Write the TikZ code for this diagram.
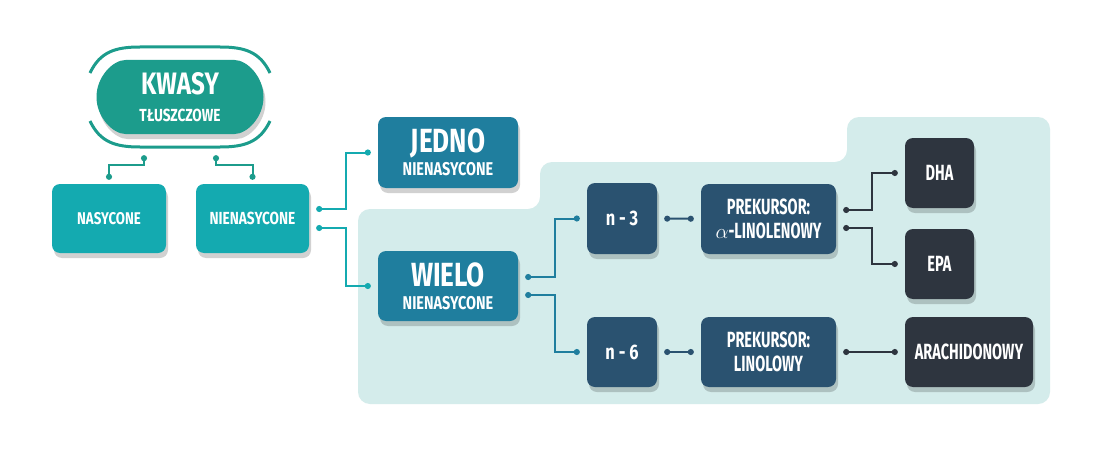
\documentclass[tikz,border=0pt]{standalone}
\usepackage{fontspec}
\newfontfamily\boxfont[FakeStretch=0.66]{Fira Sans}
\newfontfamily\widefont[FakeStretch=0.78]{Fira Sans}
\usetikzlibrary{shapes.misc}
\usetikzlibrary{shadows}
\usetikzlibrary{arrows.meta}

\definecolor{pillteal}{HTML}{1C9C8C}
\definecolor{lightteal}{HTML}{14AAB0}
\definecolor{midblue}{HTML}{1F7E9E}
\definecolor{darkblue}{HTML}{2A5270}
\definecolor{slate}{HTML}{2E353F}
\definecolor{panelbg}{HTML}{D4ECEB}

\newcommand{\boxtxt}[3]{{\fontsize{#1}{#2}\selectfont #3}}

\tikzset{
  box/.style={rounded corners=8pt, text=white, align=center, inner sep=0pt,
    drop shadow={shadow xshift=2pt, shadow yshift=-5pt, fill=black, opacity=0.18}},
  sized/.style 2 args={font=\boxfont\bfseries\fontsize{#1}{#2}\selectfont},
  widesized/.style 2 args={font=\widefont\bfseries\fontsize{#1}{#2}\selectfont},
  link/.style={line width=2pt, {Circle[length=6pt]}-{Circle[length=6pt]},
    shorten <=7pt, shorten >=7pt},
}

\begin{document}
\begin{tikzpicture}[x=1pt, y=-1pt]
\fill[white] (0,0) rectangle (1100,452);
\useasboundingbox (0,0) rectangle (1100,452);

% panel
\fill[panelbg, rounded corners=12pt] (358,209) -- (540,209) -- (540,162) -- (847,162)
  -- (847,117) -- (1050,117) -- (1050,404) -- (358,404) -- cycle;

% top
\node[box, rounded rectangle, fill=pillteal, minimum width=167pt, minimum height=74pt,
  widesized={31}{27}] (kwasy) at (180,97) {KWASY\\\boxtxt{17.5}{27}{TŁUSZCZOWE}};
\draw[pillteal, line width=3pt] (90,73) .. controls (100,52) and (115,47) .. (140,47)
  -- (220,47) .. controls (245,47) and (260,52) .. (270,73);
\draw[pillteal, line width=3pt] (90,121) .. controls (100,142) and (115,147) .. (140,147)
  -- (220,147) .. controls (245,147) and (260,142) .. (270,121);

\node[box, fill=lightteal, minimum width=114pt, minimum height=69pt, widesized={17}{20}]
  (nas) at (109,218.5) {NASYCONE};
\node[box, fill=lightteal, minimum width=113pt, minimum height=69pt, widesized={17.5}{20}]
  (nien) at (252.5,218.5) {NIENASYCONE};

\node[box, fill=midblue, minimum width=140pt, minimum height=71pt, widesized={33.5}{23}]
  (jedno) at (448,152.5) {JEDNO\\\boxtxt{18.5}{23}{NIENASYCONE}};
\node[box, fill=midblue, minimum width=140pt, minimum height=70pt, widesized={33.5}{23}]
  (wielo) at (448,286) {WIELO\\\boxtxt{18.5}{23}{NIENASYCONE}};

\node[box, fill=darkblue, minimum width=70pt, minimum height=71pt, widesized={21}{20}]
  (n3) at (622,218.5) {n - 3};
\node[box, fill=darkblue, minimum width=70pt, minimum height=70pt, widesized={21}{20}]
  (n6) at (622,352) {n - 6};

\node[box, fill=darkblue, minimum width=135pt, minimum height=70pt, sized={22}{24}]
  (prekA) at (768.5,219) {PREKURSOR:\\$\alpha$-LINOLENOWY};
\node[box, fill=darkblue, minimum width=135pt, minimum height=70pt, sized={22}{24}]
  (prekL) at (768.5,352) {PREKURSOR:\\LINOLOWY};

\node[box, fill=slate, minimum width=69pt, minimum height=70pt, sized={22}{24}]
  (dha) at (939.5,173) {DHA};
\node[box, fill=slate, minimum width=69pt, minimum height=70pt, sized={22}{24}]
  (epa) at (939.5,264) {EPA};
\node[box, fill=slate, minimum width=128pt, minimum height=70pt, sized={22}{24}]
  (arach) at (969,352) {ARACHIDONOWY};

% connectors
\draw[link, pillteal, shorten <=21pt, shorten >=4pt] ([xshift=-36pt]kwasy.south) -- ++(0,31) -| (nas.north);
\draw[link, pillteal, shorten <=21pt, shorten >=4pt] ([xshift=36pt]kwasy.south) -- ++(0,31) -| (nien.north);
\draw[link, lightteal] ([yshift=9.5pt]nien.east) -- ++(37,0) |- (jedno.west);
\draw[link, lightteal] ([yshift=-9.5pt]nien.east) -- ++(37,0) |- (wielo.west);
\draw[link, midblue] ([yshift=9pt]wielo.east) -- ++(37,0) |- (n3.west);
\draw[link, midblue] ([yshift=-9pt]wielo.east) -- ++(37,0) |- (n6.west);
\draw[link, darkblue] (n3) -- (prekA);
\draw[link, darkblue] (n6) -- (prekL);
\draw[link, slate] ([yshift=9pt]prekA.east) -- ++(36,0) |- (dha.west);
\draw[link, slate] ([yshift=-9pt]prekA.east) -- ++(36,0) |- (epa.west);
\draw[link, slate] (prekL) -- (arach);
\end{tikzpicture}
\end{document}
